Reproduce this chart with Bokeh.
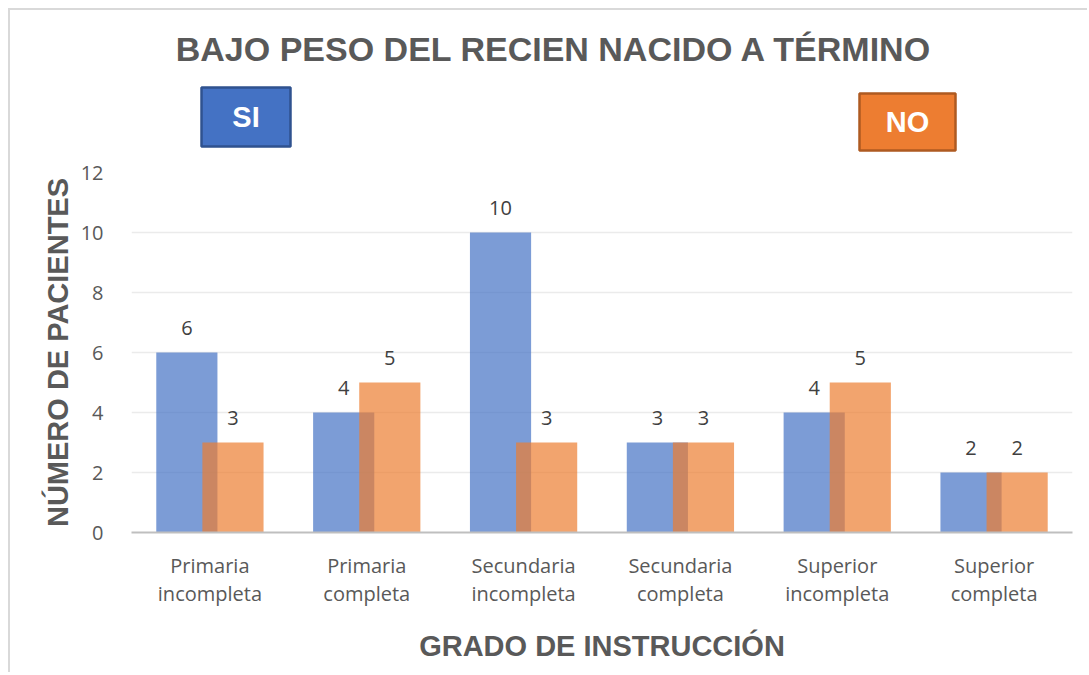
from bokeh.plotting import figure
from bokeh.layouts import column
from bokeh.models import (FactorRange, Range1d, FixedTicker, BoxAnnotation, Label,
                          ColumnDataSource)
from bokeh.transform import dodge
from bokeh.core.properties import value
from bokeh.embed import file_html
from bokeh.resources import INLINE

# ---- data ----
categories = ["Primaria\nincompleta", "Primaria\ncompleta", "Secundaria\nincompleta",
              "Secundaria\ncompleta", "Superior\nincompleta", "Superior\ncompleta"]
si_values = [6, 4, 10, 3, 4, 2]
no_values = [3, 5, 3, 3, 5, 2]
y_ticks = [0, 2, 4, 6, 8, 10, 12]
series_names = ["SI", "NO"]
title_text = "BAJO PESO DEL RECIEN NACIDO A TÉRMINO"
x_title = "GRADO DE INSTRUCCIÓN"
y_title = "NÚMERO DE PACIENTES"

BLUE = "#4472C4"
ORANGE = "#ED7D31"
GREY = "#595959"
LABEL_FONT = "Open Sans"
BOLD_FONT = "Liberation Sans"
TICK_SIZE = "20px"

W = 1077
HEAD_H = 147
MAIN_H = 515
LEFT, RIGHT = 121, 15
BOTTOM = 140

# ---------------- header (title + SI / NO boxes) ----------------
head = figure(width=W, height=HEAD_H, title=None,
              x_range=Range1d(LEFT, W - RIGHT), y_range=Range1d(0, HEAD_H),
              x_axis_type=None, y_axis_type=None, min_border=0,
              output_backend="svg", toolbar_location=None)
head.outline_line_color = None
head.grid.visible = False

head.add_layout(Label(x=544, y=109, text=title_text, text_align="center",
                      text_baseline="middle", text_font=BOLD_FONT,
                      text_font_style="bold", text_font_size="34px", text_color=GREY))

boxes = [
    (series_names[0], BLUE, "#2F528F", 191, 280, 70, 11),
    (series_names[1], ORANGE, "#AE5A21", 849, 945, 64, 7),
]
for name, fc, lc, l, r, t, b in boxes:
    head.add_layout(BoxAnnotation(left=l, right=r, top=t, bottom=b,
                                  fill_color=fc, fill_alpha=1.0, line_color=lc,
                                  line_width=2.5, line_alpha=1.0))
    head.add_layout(Label(x=(l + r) / 2, y=(t + b) / 2, text=name, text_align="center",
                          text_baseline="middle", text_font=BOLD_FONT,
                          text_font_style="bold", text_font_size="29px",
                          text_color="white"))

# ---------------- main chart ----------------
src = ColumnDataSource(dict(cat=categories, si=si_values, no=no_values,
                            si_txt=[str(v) for v in si_values],
                            no_txt=[str(v) for v in no_values]))

p = figure(width=W, height=MAIN_H, title=None, x_range=FactorRange(factors=categories),
           y_range=Range1d(0, 12),
           output_backend="svg", toolbar_location=None,
           min_border_left=LEFT, min_border_right=RIGHT,
           min_border_top=15, min_border_bottom=BOTTOM)
p.x_range.range_padding = 0
p.outline_line_color = None

bw = 0.39
off = 0.147
p.vbar(x=dodge("cat", -off, range=p.x_range), top="si", width=bw, source=src,
       fill_color=BLUE, fill_alpha=0.7, line_color=None)
p.vbar(x=dodge("cat", off, range=p.x_range), top="no", width=bw, source=src,
       fill_color=ORANGE, fill_alpha=0.7, line_color=None)

for txt, ycol, o in (("si_txt", "si", -off), ("no_txt", "no", off)):
    p.text(x=dodge("cat", o, range=p.x_range), y=ycol, text=txt, source=src,
           text_align="center", text_baseline="middle", y_offset=-25,
           text_font=value(LABEL_FONT), text_font_size=TICK_SIZE, text_color="#404040")

p.yaxis.ticker = FixedTicker(ticks=y_ticks)
p.ygrid.ticker = FixedTicker(ticks=y_ticks)
p.ygrid.grid_line_color = "#EBEBEB"
p.ygrid.grid_line_width = 1.5
p.xgrid.grid_line_color = None

p.yaxis.axis_line_color = None
p.yaxis.major_tick_line_color = None
p.yaxis.minor_tick_line_color = None
p.yaxis.major_label_standoff = 22
p.yaxis.major_label_text_font = LABEL_FONT
p.yaxis.major_label_text_font_size = TICK_SIZE
p.yaxis.major_label_text_color = GREY
p.yaxis.axis_label = y_title
p.yaxis.axis_label_standoff = 4
p.yaxis.axis_label_text_font = BOLD_FONT
p.yaxis.axis_label_text_font_style = "bold"
p.yaxis.axis_label_text_font_size = "29px"
p.yaxis.axis_label_text_color = GREY

xa = p.xaxis[0]
xa.axis_line_color = "#BFBFBF"
xa.axis_line_width = 2
xa.major_tick_line_color = None
xa.minor_tick_line_color = None
xa.major_label_standoff = 13
xa.major_label_text_font = LABEL_FONT
xa.major_label_text_font_size = TICK_SIZE
xa.major_label_text_color = GREY
xa.major_label_text_line_height = 1.05
xa.axis_label = x_title
xa.axis_label_standoff = 20
xa.axis_label_text_font = BOLD_FONT
xa.axis_label_text_font_style = "bold"
xa.axis_label_text_font_size = "29px"
xa.axis_label_text_color = GREY

layout = column(head, p, spacing=0)
layout.styles = {"margin-left": "8px", "margin-top": "8px",
                 "border-left": "2px solid #D9D9D9", "border-top": "2px solid #D9D9D9"}

open("out.html", "w").write(file_html(layout, INLINE))
